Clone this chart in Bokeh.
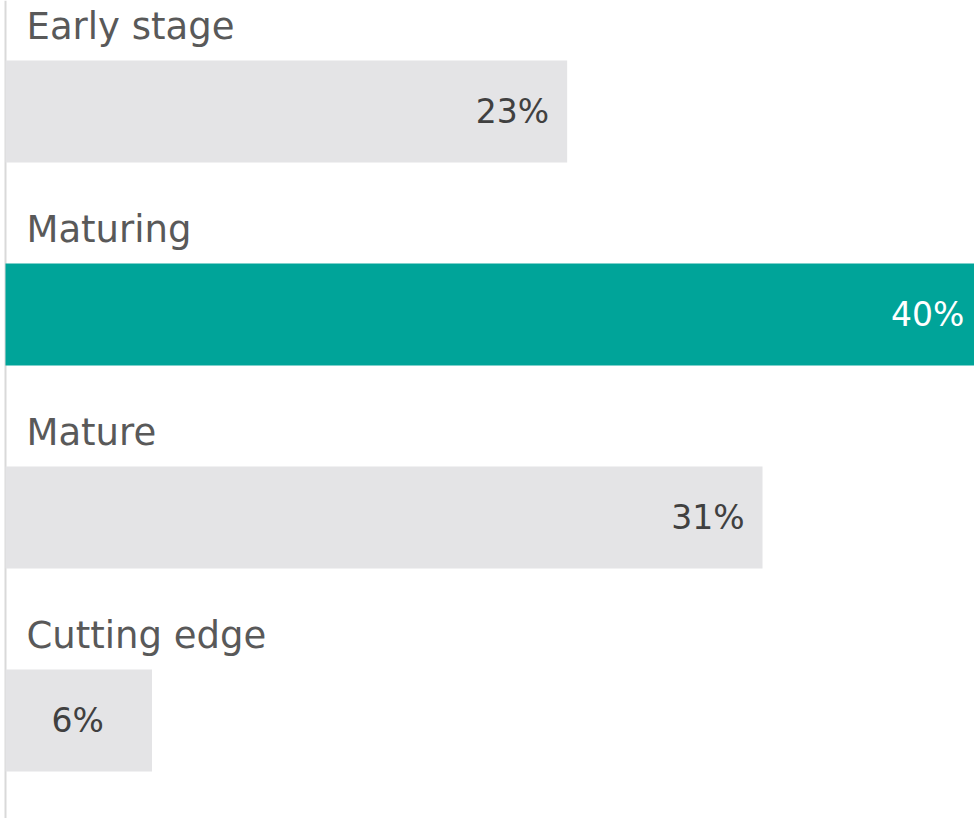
from bokeh.plotting import figure
from bokeh.models import ColumnDataSource, Range1d, Span
from bokeh.core.properties import value
from bokeh.embed import file_html
from bokeh.resources import INLINE

categories = ["Early stage", "Maturing", "Mature", "Cutting edge"]
values = [23, 40, 31, 6]
value_labels = ["23%", "40%", "31%", "6%"]
highlight = "Maturing"

GREY = "#e4e4e6"
TEAL = "#00a499"
FONT = "DejaVu Sans"

W, H = 974, 818
px_per_unit = 24.42
left_px = 5
row_px = 203
first_center_px = 111

idx = list(range(len(categories)))
colors = [TEAL if c == highlight else GREY for c in categories]
txt_colors = ["#ffffff" if c == highlight else "#404040" for c in categories]

p = figure(width=W, height=H, output_backend="svg", toolbar_location=None,
           x_axis_type=None, y_axis_type=None,
           x_range=Range1d(-left_px / px_per_unit, (W - left_px) / px_per_unit),
           y_range=Range1d((H - first_center_px) / row_px, -first_center_px / row_px),
           min_border=0, outline_line_color=None)
p.grid.visible = False
p.background_fill_color = "white"
p.border_fill_color = "white"

p.add_layout(Span(location=0, dimension="height", line_color="#d9d9d9",
                  line_width=2, level="underlay"))

bar_h = 102 / row_px
src = ColumnDataSource(dict(y=idx, v=values, cat=categories, lab=value_labels,
                            color=colors, tcolor=txt_colors,
                            top=[i - bar_h / 2 for i in idx]))
p.hbar(y="y", left=0, right="v", height=bar_h, fill_color="color",
       line_color=None, source=src)

p.text(x=0, y="top", text="cat", source=src, x_offset=21, y_offset=-34,
       text_font=value(FONT), text_font_size="37px", text_color="#595959",
       text_baseline="alphabetic", text_align="left")

big = [i for i in idx if values[i] >= 10]
small = [i for i in idx if values[i] < 10]
src_big = ColumnDataSource(dict(y=[idx[i] for i in big], v=[values[i] for i in big],
                                lab=[value_labels[i] for i in big],
                                tcolor=[txt_colors[i] for i in big]))
src_small = ColumnDataSource(dict(y=[idx[i] for i in small], v=[values[i] / 2 for i in small],
                                  lab=[value_labels[i] for i in small],
                                  tcolor=[txt_colors[i] for i in small]))
p.text(x="v", y="y", text="lab", source=src_big, x_offset=-18,
       text_font=value(FONT), text_font_size="33px", text_color="tcolor",
       text_baseline="middle", text_align="right")
p.text(x="v", y="y", text="lab", source=src_small, x_offset=-1,
       text_font=value(FONT), text_font_size="33px", text_color="tcolor",
       text_baseline="middle", text_align="center")

open("out.html", "w").write(file_html(p, INLINE))
